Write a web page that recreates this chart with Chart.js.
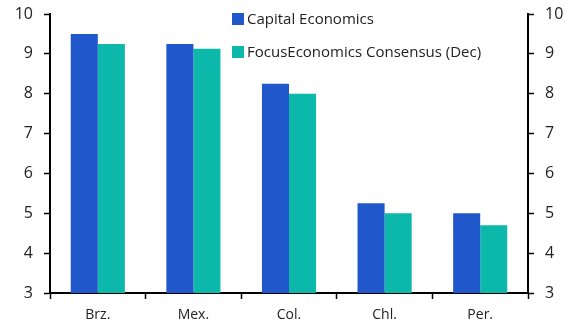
<!DOCTYPE html>
<html>
<head>
<meta charset="utf-8">
<script src="https://cdn.jsdelivr.net/npm/chart.js@4/dist/chart.umd.min.js"></script>
<style>
  html, body { margin: 0; padding: 0; background: #fff; }
  #wrap { width: 565px; height: 327px; }
</style>
</head>
<body>
<div id="wrap"><canvas id="chart"></canvas></div>
<script>
// Policy rate forecasts, end-year (%)
const countries = ['Brz.', 'Mex.', 'Col.', 'Chl.', 'Per.']
const capital_economics = [9.5, 9.25, 8.25, 5.25, 5.0]
const focus_consensus   = [9.25, 9.13, 8.0, 5.0, 4.7]
const y_ticks = [3, 4, 5, 6, 7, 8, 9, 10]

const FONT = "'Open Sans', sans-serif"
const BLUE = '#2057cb'
const TEAL = '#0cb8aa'

// Legend drawn inside the plot area, stacked at top centre
const innerLegend = {
    id: 'innerLegend',
    afterDatasetsDraw(chart) {
        const ctx = chart.ctx
        const x0 = 232
        const rows = [19, 52]
        ctx.save()
        ctx.font = '15px ' + FONT
        ctx.textBaseline = 'middle'
        chart.data.datasets.forEach((ds, i) => {
            ctx.fillStyle = ds.backgroundColor
            ctx.fillRect(x0, rows[i] - 6, 12, 12)
            ctx.fillStyle = '#222'
            ctx.fillText(ds.label, x0 + 15, rows[i] + 1)
        })
        ctx.restore()
    }
}

const axisStyle = (pos, width) => ({
    position: pos,
    min: 3,
    max: 10,
    afterBuildTicks: scale => { scale.ticks = y_ticks.map(v => ({ value: v })) },
    afterFit: scale => {
        scale.width = width
        scale.paddingTop = 14      // keep the plot top close to the canvas edge
    },
    border: { display: true, color: '#000', width: 2 },
    grid: { drawOnChartArea: false, drawTicks: true, tickLength: 6, tickColor: '#000', tickWidth: 1.5 },
    ticks: { color: '#222', padding: 11, font: { family: FONT, size: 16 } }
})

new Chart(document.getElementById('chart'), {
    type: 'bar',
    data: {
        labels: countries,
        datasets: [
            { label: 'Capital Economics', data: capital_economics, backgroundColor: BLUE, yAxisID: 'y' },
            { label: 'FocusEconomics Consensus (Dec)', data: focus_consensus, backgroundColor: TEAL, yAxisID: 'y' }
        ]
    },
    options: {
        responsive: true,
        maintainAspectRatio: false,
        animation: false,
        devicePixelRatio: 1,
        layout: { padding: 0 },
        categoryPercentage: 0.566,
        barPercentage: 1.0,
        plugins: { legend: { display: false }, tooltip: { enabled: false } },
        scales: {
            x: {
                afterFit: scale => { scale.height = 34 },
                border: { display: true, color: '#000', width: 2 },
                grid: { drawOnChartArea: false, offset: true, tickLength: 6, tickColor: '#000', tickWidth: 1.5 },
                ticks: { color: '#222', padding: 8, font: { family: FONT, size: 14 } }
            },
            y: axisStyle('left', 50),
            y2: axisStyle('right', 37)
        }
    },
    plugins: [innerLegend]
})
</script>
</body>
</html>
